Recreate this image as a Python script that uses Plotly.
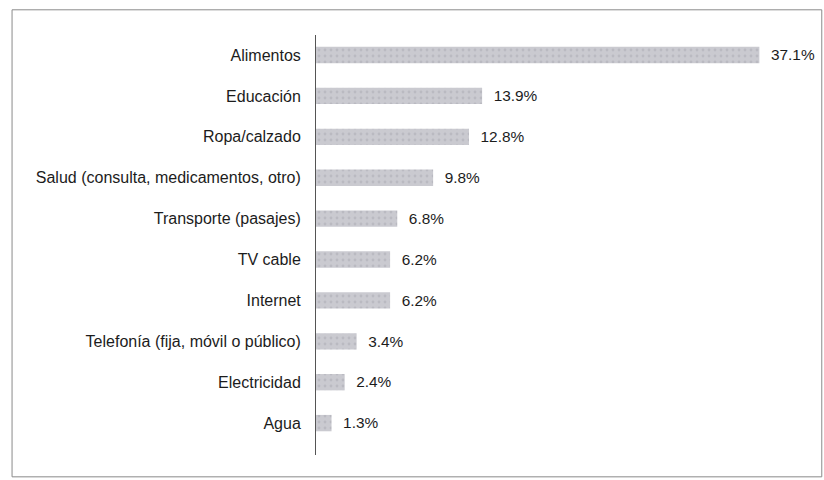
import plotly.graph_objects as go

# Household spending categories (bottom to top) and their share in %
categorias = [
    "Agua",
    "Electricidad",
    "Telefonía (fija, móvil o público)",
    "Internet",
    "TV cable",
    "Transporte (pasajes)",
    "Salud (consulta, medicamentos, otro)",
    "Ropa/calzado",
    "Educación",
    "Alimentos",
]
porcentajes = [1.3, 2.4, 3.4, 6.2, 6.2, 6.8, 9.8, 12.8, 13.9, 37.1]
etiquetas = [f"  {v:.1f}%" for v in porcentajes]

FONT = "Liberation Sans Narrow, Arial Narrow, Liberation Sans, Arial, sans-serif"
TEXT_COLOR = "#1c1c1c"

fig = go.Figure(
    go.Bar(
        x=porcentajes,
        y=categorias,
        orientation="h",
        width=0.4,
        marker=dict(
            color="#c8c8ce",
            line=dict(width=0),
            pattern=dict(shape=".", fgcolor="#a9a9b2", bgcolor="#cacad0",
                         size=6, solidity=0.18),
        ),
        text=etiquetas,
        textposition="outside",
        textfont=dict(family=FONT, size=16, color=TEXT_COLOR),
        cliponaxis=False,
        hoverinfo="skip",
    )
)

fig.update_layout(
    width=824,
    height=480,
    margin=dict(l=316, r=24, t=35, b=25),
    paper_bgcolor="white",
    plot_bgcolor="white",
    showlegend=False,
    font=dict(family=FONT, size=16, color=TEXT_COLOR),
    xaxis=dict(
        range=[0, 40.5],
        visible=False,
        showgrid=False,
        zeroline=False,
    ),
    yaxis=dict(
        range=[-0.78, 9.49],
        showline=True,
        linecolor="#555555",
        linewidth=1,
        showgrid=False,
        zeroline=False,
        ticks="",
        ticklabelstandoff=11,
        tickfont=dict(family=FONT, size=16, color=TEXT_COLOR),
    ),
    shapes=[
        # outer frame around the chart
        dict(type="rect", xref="paper", yref="paper",
             x0=-0.628, x1=1.045, y0=-0.052, y1=1.06,
             line=dict(color="#8a8a8a", width=1), fillcolor="rgba(0,0,0,0)",
             layer="below"),
    ],
)

fig.write_html("out.html")
